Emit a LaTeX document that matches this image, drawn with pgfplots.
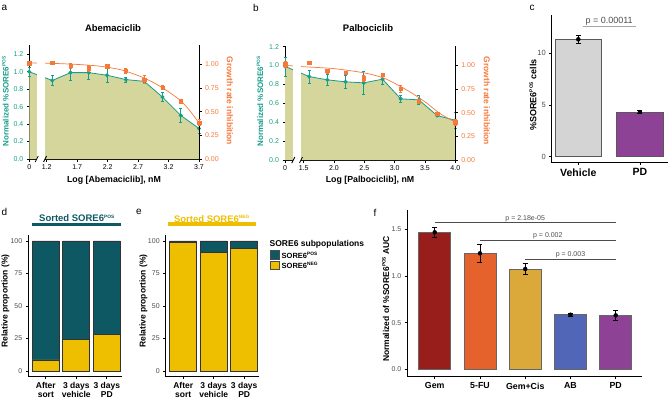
\documentclass[border=0pt]{standalone}
\usepackage{pgfplots}
\pgfplotsset{compat=1.18}
\usepackage{graphicx}
\usepackage{fontspec}
\setmainfont{Liberation Sans}
\newcommand{\fs}[1]{\fontsize{#1}{#1}\selectfont}
\newcommand{\sps}[1]{\raisebox{0.75ex}{\fontsize{4.8}{5}\selectfont #1}}
\definecolor{tealA}{RGB}{22,158,138}
\definecolor{orangeA}{RGB}{245,122,58}
\definecolor{khaki}{RGB}{212,214,156}
\definecolor{tealD}{RGB}{14,88,100}
\definecolor{yellowD}{RGB}{238,190,0}
\definecolor{greyC}{RGB}{212,212,212}
\definecolor{purpleC}{RGB}{142,66,150}
\definecolor{gemC}{RGB}{152,30,28}
\definecolor{fuC}{RGB}{230,98,45}
\definecolor{gcC}{RGB}{219,168,58}
\definecolor{abC}{RGB}{82,102,184}
\definecolor{tickgrey}{RGB}{77,77,77}
\pgfplotsset{
  base/.style={scale only axis, clip=false, anchor=south west, tick align=outside,
    major tick length=2.5pt, axis line style={line width=0.9pt},
    every tick/.append style={line width=0.8pt, black},
    /pgf/number format/assume math mode=true,
    ticklabel style={font=\fs{7}}},
  greenline/.style={tealA, line width=0.8pt, mark=*, mark size=1.6pt, mark options={solid, fill=tealA},
    error bars/.cd, y dir=both, y explicit, error bar style={line width=0.6pt, tealA},
    error mark options={rotate=90, tealA, mark size=1.5pt, line width=0.6pt}},
  orangepts/.style={only marks, orangeA, mark=square*, mark size=1.7pt, mark options={fill=orangeA},
    error bars/.cd, y dir=both, y explicit, error bar style={line width=0.6pt, orangeA},
    error mark options={rotate=90, orangeA, mark size=1.5pt, line width=0.6pt}},
  errblack/.style={only marks, mark=none, black,
    error bars/.cd, y dir=both, y explicit, error bar style={line width=0.7pt, black},
    error mark options={rotate=90, black, mark size=2.5pt, line width=0.7pt}},
}
\begin{document}
\begin{tikzpicture}
\useasboundingbox (0,0) rectangle (669pt,400pt);

% ---------------- panel a ----------------
\begin{axis}[base, at={(29.3pt,241pt)}, width=169.7pt, height=114pt,
  axis x line*=bottom, axis y line*=left,
  xmin=0.913, xmax=3.7, ymin=0, ymax=1.3066,
  xtick={0.913,1.2,1.7,2.2,2.7,3.2,3.7}, xticklabels={0,1.2,1.7,2.2,2.7,3.2,3.7},
  ytick={0,0.2,0.4,0.6,0.8,1.0,1.2},
  yticklabel style={text=tealA, /pgf/number format/fixed, /pgf/number format/fixed zerofill, /pgf/number format/precision=1}]
\addplot[draw=none, fill=khaki, forget plot] coordinates {(0.913,1.0) (1.29,0.90) (1.59,0.99) (1.89,0.99) (2.19,0.96) (2.50,0.91) (2.80,0.89) (3.10,0.71) (3.40,0.50) (3.70,0.35)} \closedcycle;
\addplot[greenline] coordinates {(0.913,1.0) +- (0,0.05) (1.29,0.90) +- (0,0.06) (1.59,0.99) +- (0,0.09) (1.89,0.99) +- (0,0.08) (2.19,0.96) +- (0,0.08) (2.50,0.91) +- (0,0.03) (2.80,0.89) +- (0,0.02) (3.10,0.71) +- (0,0.05) (3.40,0.50) +- (0,0.08) (3.70,0.35) +- (0,0.06)};
\end{axis}
\begin{axis}[base, at={(29.3pt,241pt)}, width=169.7pt, height=114pt,
  axis x line=none, axis y line*=right,
  xmin=0.913, xmax=3.7, ymin=0, ymax=1.204,
  ytick={0,0.25,0.5,0.75,1},
  yticklabel style={text=orangeA, /pgf/number format/fixed, /pgf/number format/fixed zerofill, /pgf/number format/precision=2}]
\addplot[orangeA, line width=0.7pt, smooth] coordinates {(0.913,1.015) (1.2,1.012) (1.5,1.005) (1.8,0.995) (2.1,0.978) (2.4,0.945) (2.6,0.905) (2.8,0.855) (3.0,0.79) (3.2,0.71) (3.4,0.615) (3.55,0.51) (3.7,0.38)};
\addplot[orangepts] coordinates {(0.913,1.01) +- (0,0.01) (1.29,1.02) +- (0,0.01) (1.59,0.985) +- (0,0.03) (1.89,0.96) +- (0,0.03) (2.19,0.98) +- (0,0.02) (2.50,0.93) +- (0,0.03) (2.80,0.84) +- (0,0.04) (3.10,0.755) +- (0,0.02) (3.40,0.61) +- (0,0.015) (3.70,0.385) +- (0,0.03)};
\fill[white] (axis cs:1.035,-0.04) rectangle (axis cs:1.172,1.21);
\draw[line width=0.8pt] (axis cs:1.035,0) ++(-1.5pt,-3pt) -- ++(3pt,6pt);
\draw[line width=0.8pt] (axis cs:1.172,0) ++(-1.5pt,-3pt) -- ++(3pt,6pt);
\end{axis}

% ---------------- panel b ----------------
\begin{axis}[base, at={(285pt,240pt)}, width=170.3pt, height=114pt,
  axis x line*=bottom, axis y line*=left,
  xmin=1.192, xmax=4.0, ymin=0, ymax=1.206,
  xtick={1.192,1.5,2.0,2.5,3.0,3.5,4.0}, xticklabels={0,1.5,2.0,2.5,3.0,3.5,4.0},
  ytick={0,0.2,0.4,0.6,0.8,1.0,1.2},
  yticklabel style={text=tealA, /pgf/number format/fixed, /pgf/number format/fixed zerofill, /pgf/number format/precision=1}]
\addplot[draw=none, fill=khaki, forget plot] coordinates {(1.192,0.99) (1.59,0.883) (1.89,0.848) (2.19,0.827) (2.49,0.816) (2.80,0.855) (3.10,0.647) (3.40,0.636) (3.70,0.47) (4.0,0.42)} \closedcycle;
\addplot[greenline] coordinates {(1.192,0.99) +- (0,0.10) (1.59,0.883) +- (0,0.07) (1.89,0.848) +- (0,0.06) (2.19,0.827) +- (0,0.07) (2.49,0.816) +- (0,0.12) (2.80,0.855) +- (0,0.05) (3.10,0.647) +- (0,0.04) (3.40,0.636) +- (0,0.05) (3.70,0.47) +- (0,0.01) (4.0,0.42) +- (0,0.08)};
\end{axis}
\begin{axis}[base, at={(285pt,240pt)}, width=170.3pt, height=114pt,
  axis x line=none, axis y line*=right,
  xmin=1.192, xmax=4.0, ymin=0, ymax=1.204,
  ytick={0,0.25,0.5,0.75,1},
  yticklabel style={text=orangeA, /pgf/number format/fixed, /pgf/number format/fixed zerofill, /pgf/number format/precision=2}]
\addplot[orangeA, line width=0.7pt, smooth] coordinates {(1.192,1.0) (1.5,0.985) (2.0,0.965) (2.5,0.92) (2.8,0.87) (3.0,0.81) (3.25,0.72) (3.5,0.615) (3.75,0.49) (4.0,0.40)};
\addplot[orangepts] coordinates {(1.192,1.01) +- (0,0.03) (1.59,1.03) +- (0,0) (1.89,0.94) +- (0,0.02) (2.19,0.925) +- (0,0.01) (2.49,0.865) +- (0,0.03) (2.80,0.90) +- (0,0.02) (3.10,0.753) +- (0,0.035) (3.40,0.618) +- (0,0.02) (3.70,0.49) +- (0,0.01) (4.00,0.40) +- (0,0.03)};
\fill[white] (axis cs:1.329,-0.04) rectangle (axis cs:1.456,1.21);
\draw[line width=0.8pt] (axis cs:1.329,0) ++(-1.5pt,-3pt) -- ++(3pt,6pt);
\draw[line width=0.8pt] (axis cs:1.456,0) ++(-1.5pt,-3pt) -- ++(3pt,6pt);
\end{axis}

% ---------------- panel c ----------------
\begin{axis}[base, at={(551.7pt,237.3pt)}, width=116.3pt, height=147.7pt,
  axis x line*=bottom, axis y line*=left, axis line style={line width=0.8pt},
  xmin=0.569, xmax=2.454, ymin=-0.58, ymax=13.7,
  xtick={1,2}, xticklabels={Vehicle,PD}, xticklabel style={font=\bfseries\fs{10.5}},
  ytick={0,5,10}, yticklabel style={font=\fs{7.5}, text=tickgrey}]
\addplot[ybar, bar width=46.7pt, bar shift=0pt, fill=greyC, draw=black!65, line width=0.8pt] coordinates {(1,11.35)};
\addplot[ybar, bar width=46.7pt, bar shift=0pt, fill=purpleC, draw=black!65, line width=0.8pt] coordinates {(2,4.32)};
\addplot[errblack] coordinates {(1,11.35) +- (0,0.35) (2,4.32) +- (0,0.15)};
\draw[gray!70, line width=1pt] (axis cs:1.07,12.57) -- (axis cs:1.93,12.57);
\node[font=\fs{9}, text=tickgrey, anchor=south, inner sep=1pt] at (axis cs:1.5,12.57) {p = 0.00011};
\end{axis}

% ---------------- panel d ----------------
\begin{axis}[base, at={(28.3pt,23.3pt)}, width=93.7pt, height=141.7pt,
  axis x line*=bottom, axis y line*=left, axis line style={line width=0.8pt},
  xmin=0.426, xmax=3.498, ymin=-4.4, ymax=104.6,
  ybar stacked, bar width=27pt,
  xtick={1,2,3}, xticklabels={After\\sort,3 days\\vehicle,3 days\\PD},
  xticklabel style={font=\bfseries\fs{8.5}, align=center},
  ytick={0,25,50,75,100}, yticklabel style={text=tickgrey}]
\addplot[fill=yellowD, draw=black!80, line width=0.8pt] coordinates {(1,8.5) (2,24.4) (3,28.2)};
\addplot[fill=tealD, draw=black!80, line width=0.8pt] coordinates {(1,91.5) (2,75.6) (3,71.8)};
\end{axis}

% ---------------- panel e ----------------
\begin{axis}[base, at={(165.7pt,23.3pt)}, width=93.7pt, height=141.7pt,
  axis x line*=bottom, axis y line*=left, axis line style={line width=0.8pt},
  xmin=0.426, xmax=3.498, ymin=-4.4, ymax=104.6,
  ybar stacked, bar width=27pt,
  xtick={1,2,3}, xticklabels={After\\sort,3 days\\vehicle,3 days\\PD},
  xticklabel style={font=\bfseries\fs{8.5}, align=center},
  ytick={0,25,50,75,100}, yticklabel style={text=tickgrey}]
\addplot[fill=yellowD, draw=black!80, line width=0.8pt] coordinates {(1,99.0) (2,91.3) (3,94.4)};
\addplot[fill=tealD, draw=black!80, line width=0.8pt] coordinates {(1,1.0) (2,8.7) (3,5.6)};
\end{axis}

% ---------------- panel f ----------------
\begin{axis}[base, at={(407.3pt,23.3pt)}, width=235pt, height=166.7pt,
  axis x line*=bottom, axis y line*=left, axis line style={line width=0.8pt},
  xmin=0.394, xmax=5.588, ymin=-0.079, ymax=1.707,
  xtick={1,2,3,4,5}, xticklabels={Gem,5-FU,Gem+Cis,AB,PD}, xticklabel style={font=\bfseries\fs{8.8}},
  ytick={0,0.5,1,1.5},
  yticklabel style={text=tickgrey, /pgf/number format/fixed, /pgf/number format/fixed zerofill, /pgf/number format/precision=1}]
\addplot[ybar, bar width=32pt, bar shift=0pt, fill=gemC, draw=black!60, line width=0.8pt] coordinates {(1,1.468)};
\addplot[ybar, bar width=32pt, bar shift=0pt, fill=fuC, draw=black!60, line width=0.8pt] coordinates {(2,1.243)};
\addplot[ybar, bar width=32pt, bar shift=0pt, fill=gcC, draw=black!60, line width=0.8pt] coordinates {(3,1.075)};
\addplot[ybar, bar width=32pt, bar shift=0pt, fill=abC, draw=black!60, line width=0.8pt] coordinates {(4,0.585)};
\addplot[ybar, bar width=32pt, bar shift=0pt, fill=purpleC, draw=black!60, line width=0.8pt] coordinates {(5,0.578)};
\addplot[errblack] coordinates {(1,1.468) +- (0,0.05) (2,1.243) +- (0,0.097) (3,1.075) +- (0,0.057) (4,0.585) +- (0,0.015) (5,0.578) +- (0,0.05)};
\draw[black!70, line width=0.6pt] (axis cs:1,1.571) -- (axis cs:5,1.571);
\draw[black!70, line width=0.6pt] (axis cs:2,1.385) -- (axis cs:5,1.385);
\draw[black!70, line width=0.6pt] (axis cs:3,1.182) -- (axis cs:5,1.182);
\node[font=\fs{7}, text=tickgrey, anchor=south, inner sep=1pt] at (axis cs:3,1.571) {p = 2.18e-05};
\node[font=\fs{7}, text=tickgrey, anchor=south, inner sep=1pt] at (axis cs:3.5,1.385) {p = 0.002};
\node[font=\fs{7}, text=tickgrey, anchor=south, inner sep=1pt] at (axis cs:4,1.182) {p = 0.003};
\end{axis}

% ---------------- labels ----------------
\node[font=\fs{10}] at (4.5pt,392pt) {a};
\node[font=\fs{10}] at (256pt,392pt) {b};
\node[font=\fs{10}] at (532pt,392pt) {c};
\node[font=\fs{10}] at (4.5pt,188pt) {d};
\node[font=\fs{10}] at (139pt,188pt) {e};
\node[font=\fs{10}] at (375pt,187pt) {f};

\node[font=\bfseries\fs{9.5}] at (113pt,372pt) {Abemaciclib};
\node[font=\bfseries\fs{9.5}] at (368pt,372pt) {Palbociclib};
\node[font=\bfseries\fs{8.8}] at (114pt,220pt) {Log [Abemaciclib], nM};
\node[font=\bfseries\fs{8.8}] at (370pt,220pt) {Log [Palbociclib], nM};
\node[font=\bfseries\fs{8}, text=tealA, rotate=90] at (5.5pt,298.5pt) {Normalized \%SORE6\sps{POS}};
\node[font=\bfseries\fs{8}, text=tealA, rotate=90] at (260pt,298.5pt) {Normalized \%SORE6\sps{POS}};
\node[font=\bfseries\fs{8.5}, text=orangeA, rotate=-90] at (230pt,299pt) {Growth rate inhibition};
\node[font=\bfseries\fs{8.5}, text=orangeA, rotate=-90] at (487pt,299pt) {Growth rate inhibition};

\node[font=\bfseries\fs{9}, rotate=90] at (533pt,305pt) {\%SORE6\sps{POS} cells};

\node[font=\bfseries\fs{9.5}, text=tealD] at (76.7pt,181.7pt) {Sorted SORE6\sps{POS}};
\fill[tealD] (32pt,177.3pt) rectangle (120.7pt,174.1pt);
\node[font=\bfseries\fs{9.5}, text=yellowD] at (211.7pt,181pt) {Sorted SORE6\sps{NEG}};
\fill[yellowD] (167.7pt,177.6pt) rectangle (256pt,174.4pt);
\node[font=\bfseries\fs{8.5}, rotate=90] at (5.5pt,99pt) {Relative proportion (\%)};
\node[font=\bfseries\fs{8.5}, rotate=90] at (143.5pt,99pt) {Relative proportion (\%)};

\node[anchor=west, font=\bfseries\fs{8.5}, inner sep=0pt] at (269.5pt,156pt) {SORE6 subpopulations};
\filldraw[fill=tealD, draw=black!70, line width=0.5pt] (270pt,149.5pt) rectangle (279pt,140.7pt);
\filldraw[fill=yellowD, draw=black!70, line width=0.5pt] (270pt,139pt) rectangle (279pt,130.5pt);
\node[anchor=west, font=\bfseries\fs{7.5}, inner sep=0pt] at (281.5pt,145pt) {SORE6\sps{POS}};
\node[anchor=west, font=\bfseries\fs{7.5}, inner sep=0pt] at (281.5pt,135pt) {SORE6\sps{NEG}};

\node[font=\bfseries\fs{8.5}, rotate=90] at (385.7pt,101pt) {Normalized of \%SORE6\sps{POS} AUC};
\end{tikzpicture}
\end{document}
